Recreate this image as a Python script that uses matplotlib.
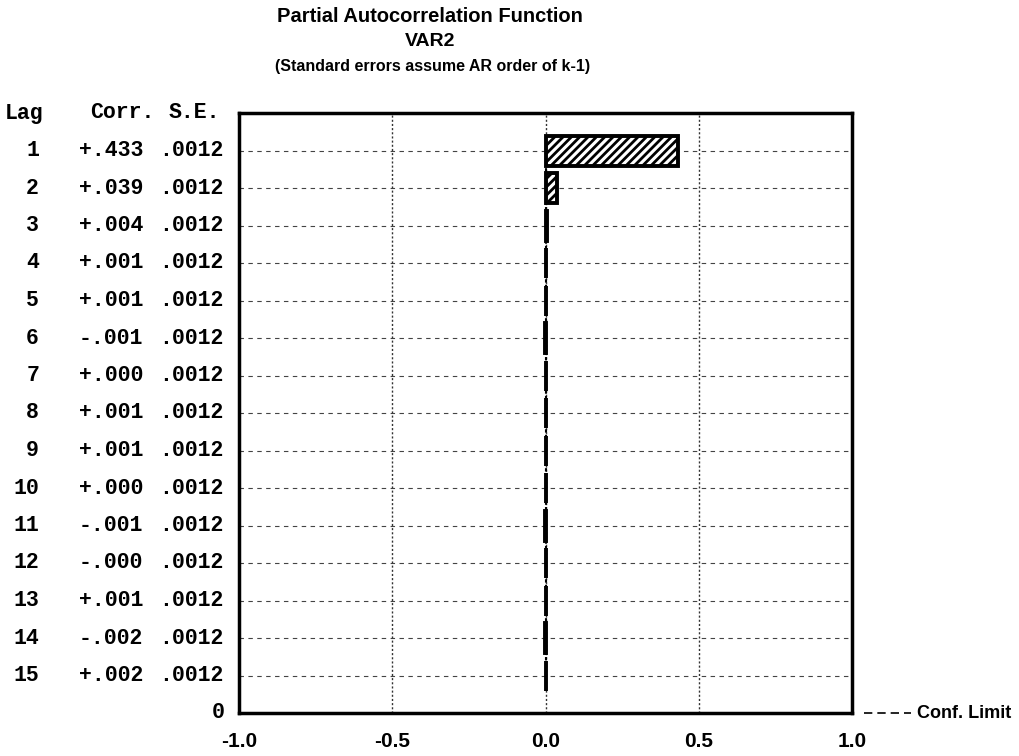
import numpy as np
import matplotlib.pyplot as plt
import matplotlib.transforms as mtransforms

lags = [1, 2, 3, 4, 5, 6, 7, 8, 9, 10, 11, 12, 13, 14, 15]
corr = [0.433, 0.039, 0.004, 0.001, 0.001, -0.001, 0.000, 0.001,
        0.001, 0.000, -0.001, -0.000, 0.001, -0.002, 0.002]
corr_txt = ['+.433', '+.039', '+.004', '+.001', '+.001', '-.001', '+.000', '+.001',
            '+.001', '+.000', '-.001', '-.000', '+.001', '-.002', '+.002']
se = [0.0012] * 15
x_ticks = [-1.0, -0.5, 0.0, 0.5, 1.0]
x_ticklabels = ['-1.0', '-0.5', '0.0', '0.5', '1.0']

plt.rcParams['hatch.linewidth'] = 2.0

W, H = 1019, 756
fig = plt.figure(figsize=(W / 100, H / 100), dpi=100)
fig.patch.set_facecolor('white')

# plot box in pixel coords
x0, x1, y0, y1 = 239, 852, 113, 713
ax = fig.add_axes([x0 / W, 1 - y1 / H, (x1 - x0) / W, (y1 - y0) / H])

mono = ['Liberation Mono', 'DejaVu Sans Mono']
sans = ['Liberation Sans', 'DejaVu Sans']

# row gridlines and the -0.5 / 0 / 0.5 verticals
for k in lags:
    ax.axhline(k, color='#444444', lw=0.8, ls=(0, (4, 4)), zorder=1)
for v in [-0.5, 0.0, 0.5]:
    ax.axvline(v, color='#333333', lw=1.0, ls=(0, (1.5, 1.5)), zorder=1)

ax.barh(lags, corr, height=0.8, left=0, color='white', edgecolor='black',
        linewidth=2.8, hatch='////', zorder=3)

# 95% limits from the standard errors
lim = 2 * np.array(se)
ax.plot(lim, lags, color='black', lw=0.8, ls=(0, (3, 2)), zorder=2)
ax.plot(-lim, lags, color='black', lw=0.8, ls=(0, (3, 2)), zorder=2)

ax.set_xlim(-1.0, 1.0)
ax.set_ylim(16.0, 0.0)
ax.set_yticks([])
ax.set_xticks(x_ticks)
ax.set_xticklabels(x_ticklabels, fontfamily=sans, fontweight='bold', fontsize=15)
ax.tick_params(axis='x', length=0, pad=14)
for s in ax.spines.values():
    s.set_linewidth(2.5)

# table of lags, correlations and standard errors
tr = mtransforms.blended_transform_factory(fig.transFigure, ax.transData)
hdr = dict(transform=tr, fontfamily=mono, fontweight='bold', fontsize=15.5, va='center')
fig.text(5 / W, 0.0, 'Lag', ha='left', **hdr)
fig.text(90 / W, 0.0, 'Corr.', ha='left', **hdr)
fig.text(169 / W, 0.0, 'S.E.', ha='left', **hdr)
for k, c, s in zip(lags, corr_txt, se):
    fig.text(39 / W, k, str(k), ha='right', **hdr)
    fig.text(79 / W, k, c, ha='left', **hdr)
    fig.text(159 / W, k, ('%.4f' % s)[1:], ha='left', **hdr)
fig.text(225 / W, 16.0, '0', ha='right', **hdr)

# titles
fig.text(430 / W, 1 - 17 / H, 'Partial Autocorrelation Function', ha='center', va='center',
         fontfamily=sans, fontweight='bold', fontsize=14.5)
fig.text(430 / W, 1 - 42 / H, 'VAR2', ha='center', va='center',
         fontfamily=sans, fontweight='bold', fontsize=14)
fig.text(433 / W, 1 - 67 / H, '(Standard errors assume AR order of k-1)', ha='center',
         va='center', fontfamily=sans, fontweight='bold', fontsize=11.5)

# legend for the limit lines
fig.add_artist(plt.Line2D([864 / W, 911 / W], [1 - 713 / H] * 2, color='black', lw=1.2,
                          ls=(0, (5, 3))))
fig.text(917 / W, 1 - 713 / H, 'Conf. Limit', ha='left', va='center',
         fontfamily=sans, fontweight='bold', fontsize=13)

fig.savefig('out.png', dpi=100, facecolor='white')
